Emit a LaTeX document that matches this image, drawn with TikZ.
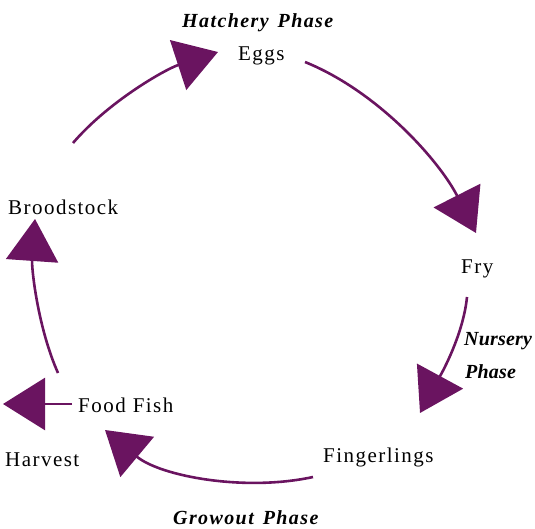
\documentclass[tikz,border=0pt]{standalone}
\usepackage{fontspec}
\setmainfont{Liberation Serif}
\usetikzlibrary{arrows.meta}
\definecolor{cyclepurple}{RGB}{106,20,96}
\tikzset{
  lbl/.style={inner sep=0pt, anchor=base west, font=\fontsize{21}{25}\selectfont\addfontfeatures{LetterSpace=7}},
  phase/.style={inner sep=0pt, anchor=base west, font=\fontsize{20}{24}\selectfont\bfseries\itshape\addfontfeatures{LetterSpace=7}},
  phasetight/.style={inner sep=0pt, anchor=base west, font=\fontsize{20}{24}\selectfont\bfseries\itshape\addfontfeatures{LetterSpace=1}},
  cyc/.style={draw=cyclepurple, line width=2.6pt, -{Triangle[length=42pt,width=52pt]}, color=cyclepurple}
}
\begin{document}
\begin{tikzpicture}[x=1pt,y=-1pt]
\useasboundingbox (0,0) rectangle (535,529);
% labels
\node[phase] (hatch) at (182,28) {Hatchery\hspace{9pt}Phase};
\node[lbl] (eggs) at (238,61) {Eggs};
\node[lbl] (fry) at (461,273) {Fry};
\node[phasetight] (nurs) at (464,345) {Nursery};
\node[phasetight] (nursb) at (465,378) {Phase};
\node[lbl] (fing) at (323,462) {Fingerlings};
\node[phase] (grow) at (173,524) {Growout\hspace{9pt}Phase};
\node[lbl] (food) at (78,412) {Food\hspace{7pt}Fish};
\node[lbl] (harv) at (5,466) {Harvest};
\node[lbl] (brood) at (8,215) {Broodstock};
% connector end points
\coordinate (s1) at (73,143);  \coordinate (t1) at (218,52);
\coordinate (s2) at (305,62);  \coordinate (t2) at (476,233);
\coordinate (s3) at (467,297); \coordinate (t3) at (420,413);
\coordinate (s4) at (313,477); \coordinate (t4) at (105,430);
\coordinate (t5) at (3,404);
\coordinate (s6) at (58,373);  \coordinate (t6) at (35,219);
% connectors
\draw[cyc] (s1) .. controls (109,101) and (166,69) .. (t1);
\draw[cyc] (s2) .. controls (379,92) and (440,162) .. (t2);
\draw[cyc] (s3) .. controls (463,337) and (439,378) .. (t3);
\draw[cyc] (s4) .. controls (244,492) and (160,476) .. (t4);
\draw[cyc] ([xshift=-6pt]food.west |- t5) -- (t5);
\draw[cyc] (s6) .. controls (38,328) and (31.5,269) .. (t6);
\end{tikzpicture}
\end{document}
